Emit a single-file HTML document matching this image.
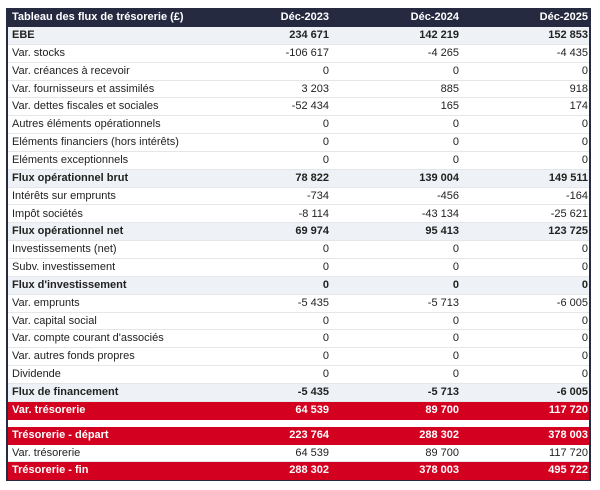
<!DOCTYPE html>
<html><head><meta charset="utf-8"><style>
body{margin:0;width:600px;height:490px;background:#fff;font-family:"Liberation Sans","DejaVu Sans",sans-serif;font-size:11px;color:#222;position:relative;overflow:hidden}
.frame{position:absolute;left:6px;top:8px;width:585px;height:473px;border:2px solid #262a40;border-top:none;box-sizing:border-box}
.r{position:absolute;left:8px;width:581px;height:18px;line-height:18px;border-bottom:1px solid #e4e6ea;box-sizing:border-box}
.r span{position:absolute;top:0}
.l{left:4px}.c1{right:260px}.c2{right:130px}.c3{right:1px}
.h{background:#262a40;color:#fff;font-weight:bold;border:none}
.b{background:#eef1f5;font-weight:bold}
.red{background:#d4001f;color:#fff;font-weight:bold;border:none}
</style></head><body>
<div class="frame"></div>
<div id="t"></div>
<script>
var rows=[
["h","Tableau des flux de trésorerie (£)","Déc-2023","Déc-2024","Déc-2025"],
["b","EBE","234 671","142 219","152 853"],
["","Var. stocks","-106 617","-4 265","-4 435"],
["","Var. créances à recevoir","0","0","0"],
["","Var. fournisseurs et assimilés","3 203","885","918"],
["","Var. dettes fiscales et sociales","-52 434","165","174"],
["","Autres éléments opérationnels","0","0","0"],
["","Eléments financiers (hors intérêts)","0","0","0"],
["","Eléments exceptionnels","0","0","0"],
["b","Flux opérationnel brut","78 822","139 004","149 511"],
["","Intérêts sur emprunts","-734","-456","-164"],
["","Impôt sociétés","-8 114","-43 134","-25 621"],
["b","Flux opérationnel net","69 974","95 413","123 725"],
["","Investissements (net)","0","0","0"],
["","Subv. investissement","0","0","0"],
["b","Flux d'investissement","0","0","0"],
["","Var. emprunts","-5 435","-5 713","-6 005"],
["","Var. capital social","0","0","0"],
["","Var. compte courant d'associés","0","0","0"],
["","Var. autres fonds propres","0","0","0"],
["","Dividende","0","0","0"],
["b","Flux de financement","-5 435","-5 713","-6 005"],
["red","Var. trésorerie","64 539","89 700","117 720"],
["gap"],
["red","Trésorerie - départ","223 764","288 302","378 003"],
["","Var. trésorerie","64 539","89 700","117 720"],
["red","Trésorerie - fin","288 302","378 003","495 722"]];
var y=8,h="";
rows.forEach(function(r){
 if(r[0]=="gap"){y+=7;return;}
 var hh=r[0]=="h"?19:17.85;
 h+='<div class="r '+r[0]+'" style="top:'+y.toFixed(2)+'px;height:'+hh+'px;line-height:'+hh+'px"><span class="l">'+r[1]+'</span><span class="c1">'+r[2]+'</span><span class="c2">'+r[3]+'</span><span class="c3">'+r[4]+'</span></div>';
 y+=hh;
});
document.getElementById('t').innerHTML=h;
</script>
</body></html>
